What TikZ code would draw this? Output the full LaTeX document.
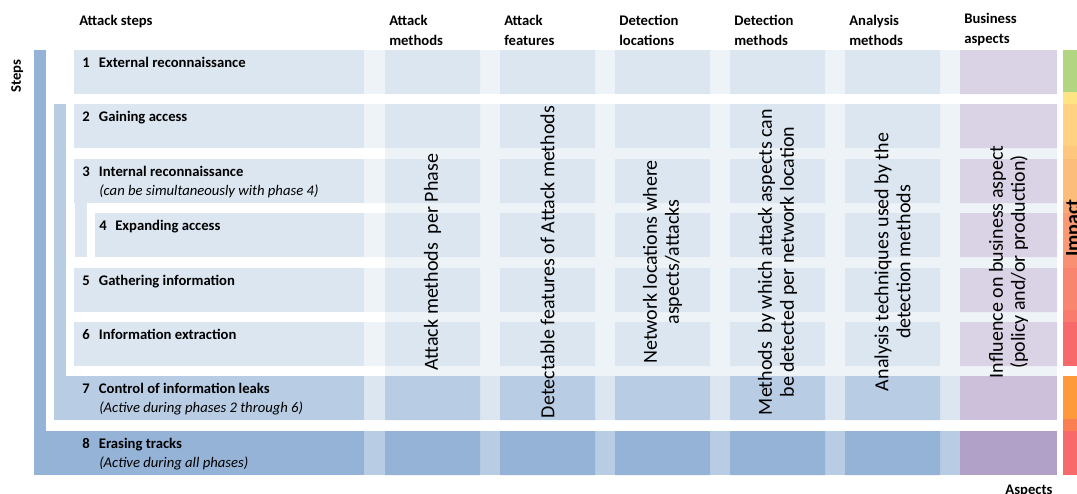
\documentclass[tikz,border=0pt]{standalone}
\usepackage{fontspec}
\setmainfont{Carlito}

\definecolor{cellA}{HTML}{DCE6F1}
\definecolor{gapA}{HTML}{EEF3F8}
\definecolor{cellB}{HTML}{B8CCE4}
\definecolor{cellC}{HTML}{95B3D7}
\definecolor{busA}{HTML}{DAD3E6}
\definecolor{busB}{HTML}{CCC0DA}
\definecolor{busC}{HTML}{B1A0C7}
\definecolor{impA}{HTML}{B1D580}
\definecolor{impB}{HTML}{FFE484}
\definecolor{impC}{HTML}{FED280}
\definecolor{impD}{HTML}{FDC77E}
\definecolor{impE}{HTML}{FCBD7B}
\definecolor{impF}{HTML}{FBA877}
\definecolor{impG}{HTML}{FA9A74}
\definecolor{impH}{HTML}{F99071}
\definecolor{impI}{HTML}{F98570}
\definecolor{impJ}{HTML}{F97B6E}
\definecolor{impK}{HTML}{F8696B}
\definecolor{impL}{HTML}{FF9A3A}
\definecolor{impM}{HTML}{FA7F52}

\begin{document}
\begin{tikzpicture}[
        x=0.75pt, y=-0.75pt,
        head/.style={font=\bfseries\fontsize{11}{15}\selectfont, align=left, anchor=base west, inner sep=0pt},
        lbl/.style={font=\bfseries\fontsize{11}{13}\selectfont, anchor=base west, inner sep=0pt},
        note/.style={font=\itshape\fontsize{11}{13}\selectfont, anchor=base west, inner sep=0pt},
        vtext/.style={font=\fontsize{15}{16.5}\selectfont, align=center, rotate=90, inner sep=0pt},
        axislbl/.style={font=\bfseries\fontsize{11}{13}\selectfont, inner sep=0pt}
    ]
    \useasboundingbox (0,0) rectangle (1077,493);

    % Spalten-Hintergrund
    \fill[gapA] (385,104) rectangle (1057,420);
    \fill[gapA] (364,50) rectangle (1057,94);
    \fill[gapA] (364,104) rectangle (385,148) (364,159) rectangle (385,203)
                (364,213) rectangle (385,257) (364,268) rectangle (385,312)
                (364,322) rectangle (385,366);
    \fill[cellA] (364,376) rectangle (1057,420);
    \fill[cellB] (364,431) rectangle (1057,475);

    % Zellen
    \fill[cellA] (385,50) rectangle (480,94) (500,50) rectangle (595,94) (615,50) rectangle (710,94)
                 (730,50) rectangle (825,94) (845,50) rectangle (940,94);
    \fill[cellA] (385,104) rectangle (480,148) (500,104) rectangle (595,148) (615,104) rectangle (710,148)
                 (730,104) rectangle (825,148) (845,104) rectangle (940,148);
    \fill[cellA] (385,159) rectangle (480,203) (500,159) rectangle (595,203) (615,159) rectangle (710,203)
                 (730,159) rectangle (825,203) (845,159) rectangle (940,203);
    \fill[cellA] (385,213) rectangle (480,257) (500,213) rectangle (595,257) (615,213) rectangle (710,257)
                 (730,213) rectangle (825,257) (845,213) rectangle (940,257);
    \fill[cellA] (385,268) rectangle (480,312) (500,268) rectangle (595,312) (615,268) rectangle (710,312)
                 (730,268) rectangle (825,312) (845,268) rectangle (940,312);
    \fill[cellA] (385,322) rectangle (480,366) (500,322) rectangle (595,366) (615,322) rectangle (710,366)
                 (730,322) rectangle (825,366) (845,322) rectangle (940,366);
    \fill[cellB] (385,376) rectangle (480,420) (500,376) rectangle (595,420) (615,376) rectangle (710,420)
                 (730,376) rectangle (825,420) (845,376) rectangle (940,420);
    \fill[cellC] (385,431) rectangle (480,475) (500,431) rectangle (595,475) (615,431) rectangle (710,475)
                 (730,431) rectangle (825,475) (845,431) rectangle (940,475);

    % Business
    \fill[busA] (960,50) rectangle (1057,94) (960,104) rectangle (1057,148) (960,159) rectangle (1057,203)
                (960,213) rectangle (1057,257) (960,268) rectangle (1057,312) (960,322) rectangle (1057,366);
    \fill[busB] (960,376) rectangle (1057,420);
    \fill[busC] (960,431) rectangle (1057,475);

    % Schritte
    \fill[cellC] (34,50) rectangle (46,475);
    \fill[cellB] (54,104) rectangle (66,420);
    \fill[cellA] (74,50) rectangle (364,94);
    \fill[cellA] (74,104) rectangle (364,148);
    \fill[cellA] (74,159) rectangle (364,203);
    \fill[cellA] (75,203) rectangle (87,257);
    \fill[cellA] (95,213) rectangle (364,257);
    \fill[cellA] (74,268) rectangle (364,312);
    \fill[cellA] (74,322) rectangle (364,366);
    \fill[cellB] (54,376) rectangle (364,420);
    \fill[cellC] (34,431) rectangle (364,475);

    % Impact
    \fill[impA] (1063,50) rectangle (1077,92);
    \fill[impB] (1063,92) rectangle (1077,104);
    \fill[impC] (1063,104) rectangle (1077,146);
    \fill[impD] (1063,146) rectangle (1077,159);
    \fill[impE] (1063,159) rectangle (1077,201);
    \fill[impF] (1063,201) rectangle (1077,213);
    \fill[impG] (1063,213) rectangle (1077,255);
    \fill[impH] (1063,255) rectangle (1077,268);
    \fill[impI] (1063,268) rectangle (1077,310);
    \fill[impJ] (1063,310) rectangle (1077,322);
    \fill[impK] (1063,322) rectangle (1077,366);
    \fill[impL] (1063,376) rectangle (1077,419);
    \fill[impM] (1063,419) rectangle (1077,431);
    \fill[impK] (1063,431) rectangle (1077,475);

    % Kopfzeile
    \node[head] (hsteps) at (79,25) {Attack steps};
    \node[head] (hmeth) at (389,45) {Attack\\methods};
    \node[head] (hfeat) at (504,45) {Attack\\features};
    \node[head] (hloc) at (619,45) {Detection\\locations};
    \node[head] (hdet) at (734,45) {Detection\\methods};
    \node[head] (hana) at (849,45) {Analysis\\methods};
    \node[head] (hbus) at (964,43) {Business\\aspects};

    % Phasen
    \node[lbl] (s1) at (82,67) {\makebox[12.5pt][l]{1}External reconnaissance};
    \node[lbl] (s2) at (82,121) {\makebox[12.5pt][l]{2}Gaining access};
    \node[lbl] (s3) at (82,176) {\makebox[12.5pt][l]{3}Internal reconnaissance};
    \node[note] (n3) at (99,195) {(can be simultaneously with phase 4)};
    \node[lbl] (s4) at (99,230) {\makebox[12pt][l]{4}Expanding access};
    \node[lbl] (s5) at (82,285) {\makebox[12.5pt][l]{5}Gathering information};
    \node[lbl] (s6) at (82,339) {\makebox[12.5pt][l]{6}Information extraction};
    \node[lbl] (s7) at (82,393) {\makebox[12.5pt][l]{7}Control of information leaks};
    \node[note] (n7) at (99,412) {(Active during phases 2 through 6)};
    \node[lbl] (s8) at (82,448) {\makebox[12.5pt][l]{8}Erasing tracks};
    \node[note] (n8) at (99,467) {(Active during all phases)};

    % Beschreibungen
    \node[vtext] (vmeth) at (432.5,262) {Attack methods~ per Phase};
    \node[vtext] (vfeat) at (547.5,262) {Detectable features of Attack methods};
    \node[vtext] (vloc) at (662.5,262) {Network locations where\\aspects/attacks};
    \node[vtext] (vdet) at (777.5,262) {Methods~ by which attack aspects can\\be detected per network location};
    \node[vtext] (vana) at (892.5,262) {Analysis techniques used by the\\detection methods};
    \node[vtext] (vbus) at (1008.5,262) {Influence on business aspect\\(policy and/or production)};

    % Achsen
    \node[axislbl, rotate=90, anchor=base] (lsteps) at (21,76) {Steps};
    \node[axislbl, font=\bfseries\fontsize{15}{17}\selectfont, rotate=90, anchor=base] (limpact) at (1079,228) {Impact};
    \node[axislbl, anchor=base] (laspects) at (1029,494) {Aspects};
\end{tikzpicture}
\end{document}
